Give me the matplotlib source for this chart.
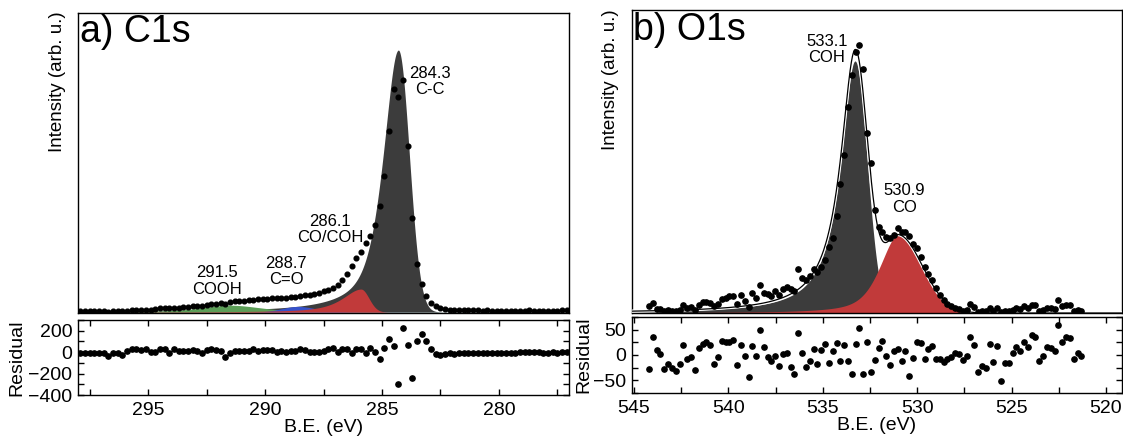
import numpy as np
import matplotlib.pyplot as plt
import matplotlib.patheffects as pe
from matplotlib.ticker import MultipleLocator

plt.rcParams['font.family'] = ['Liberation Sans', 'DejaVu Sans']

DARK = '#3c3c3c'
RED = '#c13a3a'
GREEN = '#5c9e57'
BLUE = '#3651c9'

# ---------------- C1s ----------------
# binding energies of the measured points (0.2 eV steps)
c1s_be = np.linspace(297.9, 277.1, 105)
c1s_counts = [
    0.2, 0.2, 0.2, 0.2, 0.2, 0.2, 0.1, 0.3, 0.4, 0.3,
    0.5, 0.6, 0.6, 0.7, 0.8, 0.8, 0.9, 1.2, 1.3, 1.2,
    1.5, 1.5, 1.7, 1.8, 2.0, 2.1, 2.1, 2.5, 2.7, 2.8,
    2.9, 2.8, 3.3, 3.6, 3.7, 3.8, 3.9, 4.2, 4.3, 4.4,
    4.5, 4.6, 4.6, 4.8, 4.8, 5.0, 5.2, 5.5, 5.6, 5.8,
    6.0, 6.4, 7.0, 7.5, 8.2, 9.2, 10.6, 12.6, 15.3, 18.0,
    20.2, 23.0, 25.5, 29.0, 35.5, 45.5, 60.5, 74.6, 72.0, 77.5,
    55.5, 31.5, 16.0, 9.5, 5.5, 3.2, 1.9, 1.3, 1.0, 0.8,
    0.7, 0.7, 0.6, 0.6, 0.6, 0.6, 0.5, 0.6, 0.5, 0.5,
    0.5, 0.5, 0.4, 0.5, 0.5, 0.5, 0.6, 0.5, 0.5, 0.5,
    0.5, 0.5, 0.4, 0.6, 0.6]
c1s_resid = [
    -10, -12, -10, -10, -12, -10, -38, -8, -5, -28,
    15, 25, 28, 22, 25, 5, 0, 30, 25, -5,
    30, 12, 15, 12, 18, 10, -5, 20, 25, 22,
    10, -45, -12, 12, 10, 12, 8, 25, 15, 20,
    22, 20, 5, 15, -3, 10, 12, 25, 18, 5,
    0, 5, 8, 30, 40, 0, 28, 30, -12, 25,
    28, -5, 40, 0, -60, 40, 125, 55, -300, 225,
    65, -240, 100, 165, 100, 30, -15, -25, -15, -12,
    -15, -12, -10, -12, -10, -12, -10, -8, -10, -10,
    -12, -8, -5, -5, 0, 0, -3, 2, 0, -5,
    -5, 0, -8, 5, 5]

# fitted components (drawing order): centre, height, HWHM on the high / low BE
# side and lorentzian share on each side
c1s_center = [284.3, 291.5, 288.6, 285.9]
c1s_height = [87.6, 2.3, 1.9, 7.7]
c1s_w_hi = [0.78, 1.5, 0.8, 0.95]
c1s_w_lo = [0.55, 1.6, 0.9, 0.4]
c1s_m_hi = [0.7, 0.7, 0.0, 0.8]
c1s_m_lo = [0.0, 0.5, 0.4, 0.0]
c1s_colors = [DARK, GREEN, BLUE, RED]

c1s_labels = ['284.3\nC-C', '291.5\nCOOH', '288.7\nC=O', '286.1\nCO/COH']
c1s_label_x = [282.94, 292.07, 289.09, 287.22]
c1s_label_y = [77.0, 10.4, 13.7, 27.7]

# ---------------- O1s ----------------
o1s_be = np.linspace(544.2, 521.3, 114)
o1s_counts = [
    2.2, 3.4, 1.4, 1.2, 0.6, 0.9, 0.8, 0.6, 1.0, 2.8,
    1.6, 1.9, 1.0, 2.7, 3.6, 3.8, 3.4, 2.4, 2.9, 4.8,
    5.0, 5.6, 5.8, 3.0, 6.1, 4.0, 2.0, 6.5, 5.0, 9.4,
    6.8, 6.2, 5.8, 7.2, 6.0, 8.0, 8.6, 8.0, 7.2, 14.6,
    11.6, 11.0, 12.4, 14.8, 13.8, 15.4, 17.5, 22.1, 24.9, 32.3,
    43.0, 52.7, 68.6, 79.3, 87.0, 89.3, 81.2, 59.9, 49.9, 34.3,
    28.8, 27.1, 25.4, 24.9, 26.0, 28.2, 27.0, 27.1, 25.5, 23.0,
    21.8, 18.5, 15.2, 13.0, 11.0, 8.2, 6.0, 4.2, 3.0, 2.2,
    1.6, 1.2, 0.8, 0.9, 2.9, 2.0, 0.4, 0.6, 0.5, 1.8,
    0.8, 1.6, 0.3, 0.6, 0.6, 1.0, 1.6, 1.2, 2.2, 1.6,
    2.8, 2.6, 0.7, 1.0, 1.6, 1.5, 1.2, 4.2, 2.2, 2.7,
    2.6, 0.6, 0.9, 0.6]
o1s_resid = [
    -28, 35, 9, 2, -28, -18, -25, -31, -18, 19,
    -8, -3, -29, 13, 22, 26, 20, -18, -3, 28,
    25, 25, 30, -20, 19, -1, -43, 17, -1, 50,
    15, -3, -11, -1, -21, 2, 3, -23, -38, 44,
    4, -23, -11, 12, -18, 10, 22, -16, 7, 23,
    -11, 20, -11, -38, 22, 53, -38, 26, -33, -9,
    13, 28, -1, -20, 7, 12, -11, 7, -41, -5,
    25, 24, -8, 12, 17, -7, -7, -13, -8, -3,
    3, 2, -10, -1, 35, 19, -33, -21, -26, 22,
    -13, 17, -51, -15, -15, 3, 15, 7, 26, 15,
    40, 35, -11, -1, 15, 13, 7, 60, 26, 36,
    33, -8, 3, -1]

o1s_center = [533.29, 531.0]
o1s_height = [84.0, 26.0]
o1s_w_hi = [0.92, 1.15]
o1s_w_lo = [0.76, 1.5]
o1s_m_hi = [1.0, 0.6]
o1s_m_lo = [0.0, 0.0]
o1s_colors = [DARK, RED]

o1s_labels = ['533.1\nCOH', '530.9\nCO']
o1s_label_x = [534.78, 530.66]
o1s_label_y = [87.8, 38.0]


def peak(be, c, h, w_hi, w_lo, m_hi, m_lo):
    d = be - c
    w = np.where(d > 0, w_hi, w_lo)
    m = np.where(d > 0, m_hi, m_lo)
    x2 = (d / w) ** 2
    return h * (m / (1 + x2) + (1 - m) * np.exp(-np.log(2) * x2))


def style_resid(ax, xlim, ylim, ymaj, ymin):
    ax.set_xlim(xlim)
    ax.set_ylim(ylim)
    ax.xaxis.set_major_locator(MultipleLocator(5))
    ax.xaxis.set_minor_locator(MultipleLocator(2.5))
    ax.yaxis.set_major_locator(MultipleLocator(ymaj))
    ax.yaxis.set_minor_locator(MultipleLocator(ymin))
    ax.tick_params(which='both', direction='in', top=True, right=True,
                   labelsize=14, width=1, length=4)
    ax.tick_params(axis='x', pad=5)
    ax.tick_params(axis='y', pad=4)
    ax.set_xlabel('B.E. (eV)', fontsize=14, labelpad=0)
    for s in ax.spines.values():
        s.set_linewidth(1)


def style_main(ax, xlim, ylim):
    ax.set_xlim(xlim)
    ax.set_ylim(ylim)
    ax.set_xticks([])
    ax.set_yticks([])
    ax.set_ylabel('Intensity (arb. u.)', fontsize=13.5)
    for s in ax.spines.values():
        s.set_linewidth(1)


fig = plt.figure(figsize=(11.23, 4.37), dpi=100)

# left: C1s
ax1 = fig.add_axes([0.0695, 0.2838, 0.4372, 0.6865])
ax1r = fig.add_axes([0.0695, 0.0961, 0.4372, 0.1716])
c1s_xlim = (298.0, 277.0)
grid = np.linspace(c1s_xlim[0], c1s_xlim[1], 2000)
for i in range(len(c1s_center)):
    y = peak(grid, c1s_center[i], c1s_height[i], c1s_w_hi[i], c1s_w_lo[i],
             c1s_m_hi[i], c1s_m_lo[i])
    ax1.fill_between(grid, 0, y, color=c1s_colors[i], lw=0, zorder=1 + i)
ax1.plot(c1s_be, c1s_counts, 'o', color='black', ms=3.4, zorder=10)
for lab, x, y in zip(c1s_labels, c1s_label_x, c1s_label_y):
    ax1.text(x, y, lab, ha='center', va='center', fontsize=12, linespacing=1.1)
ax1.text(0.003, 0.997, 'a) C1s', transform=ax1.transAxes, ha='left', va='top',
         fontsize=27)
style_main(ax1, c1s_xlim, (-0.3, 100))
ax1.yaxis.set_label_coords(-0.025, 0.77)

ax1r.plot(c1s_be, c1s_resid, 'o', color='black', ms=3.8)
style_resid(ax1r, c1s_xlim, (-400, 300), 200, 100)
ax1r.set_ylabel('Residual', fontsize=14)
ax1r.yaxis.set_label_coords(-0.108, 0.5)

# right: O1s
ax2 = fig.add_axes([0.5628, 0.2838, 0.4363, 0.6934])
ax2r = fig.add_axes([0.5628, 0.1007, 0.4363, 0.1739])
o1s_xlim = (545.1, 519.15)
grid = np.linspace(o1s_xlim[0], o1s_xlim[1], 2000)
fit = np.zeros_like(grid)
for i in range(len(o1s_center)):
    y = peak(grid, o1s_center[i], o1s_height[i], o1s_w_hi[i], o1s_w_lo[i],
             o1s_m_hi[i], o1s_m_lo[i])
    fit += y
    ax2.fill_between(grid, 0, y, color=o1s_colors[i], lw=0, zorder=1 + i)
ax2.plot(grid, fit, color='black', lw=0.9, zorder=5,
         path_effects=[pe.withStroke(linewidth=2.4, foreground='white')])
ax2.plot(o1s_be, o1s_counts, 'o', color='black', ms=3.8, zorder=10)
for lab, x, y in zip(o1s_labels, o1s_label_x, o1s_label_y):
    ax2.text(x, y, lab, ha='center', va='center', fontsize=12, linespacing=1.1)
ax2.text(0.003, 0.993, 'b) O1s', transform=ax2.transAxes, ha='left', va='top',
         fontsize=27)
style_main(ax2, o1s_xlim, (0, 101))
ax2.yaxis.set_label_coords(-0.027, 0.77)

ax2r.plot(o1s_be, o1s_resid, 'o', color='black', ms=3.8)
style_resid(ax2r, o1s_xlim, (-75, 75), 50, 25)
ax2r.set_ylabel('Residual', fontsize=14)
ax2r.yaxis.set_label_coords(-0.08, 0.5)

fig.savefig('out.png', dpi=100)
